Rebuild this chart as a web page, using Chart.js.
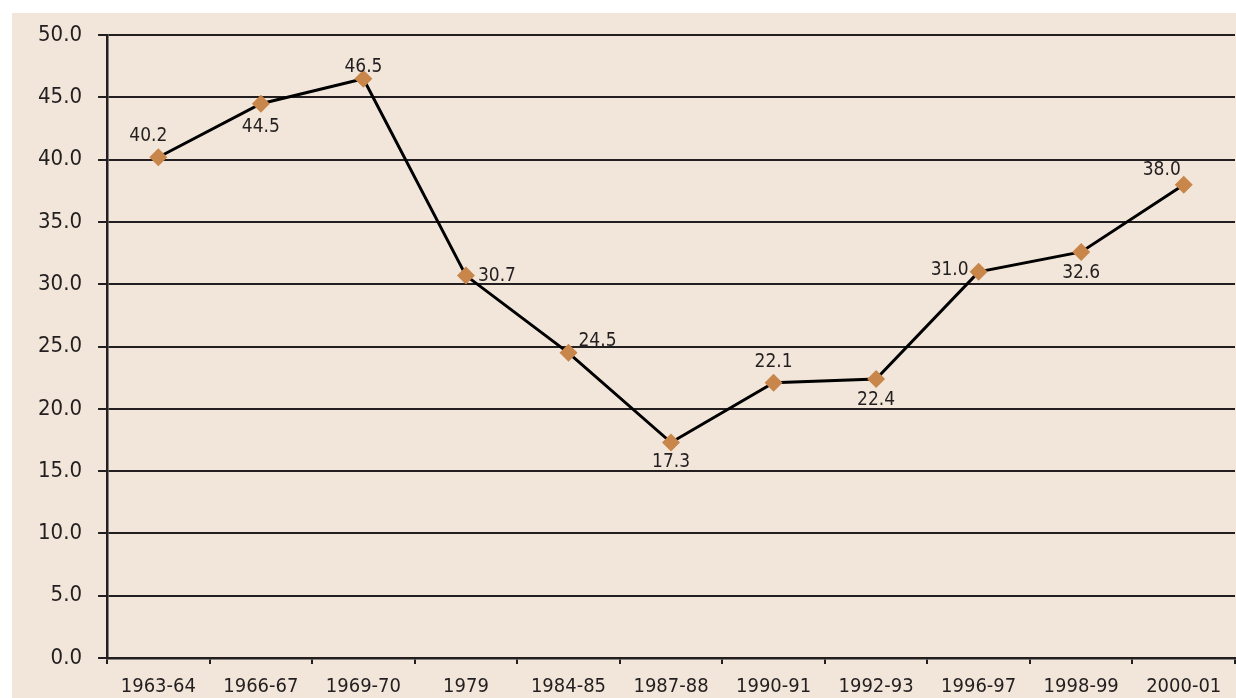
<!DOCTYPE html>
<html>
<head>
<meta charset="utf-8">
<script src="https://cdn.jsdelivr.net/npm/chart.js@4/dist/chart.umd.min.js"></script>
<style>
  html, body { margin: 0; padding: 0; background: #ffffff; }
  #panel {
    position: absolute; left: 12px; top: 13px;
    width: 1224px; height: 685px;
    background: #f2e6da;
    overflow: hidden;
  }
  #wrap {
    position: absolute; left: 0; top: -7px;
    width: 1232px; height: 704px;
  }
</style>
</head>
<body>
<div id="panel"><div id="wrap"><canvas id="chart"></canvas></div></div>
<script>
const periods = ['1963-64', '1966-67', '1969-70', '1979', '1984-85', '1987-88',
                 '1990-91', '1992-93', '1996-97', '1998-99', '2000-01'];
const values = [40.2, 44.5, 46.5, 30.7, 24.5, 17.3, 22.1, 22.4, 31.0, 32.6, 38.0];

// where each value label sits relative to its point (dx, dy)
const labelOffsets = [[-10, -21], [0, 23], [0, -12], [31, 0], [29, -12], [0, 20],
                      [0, -21], [0, 21], [-29, -2], [0, 21], [-22, -15]];

const fontFam = '"Liberation Sans Narrow", "DejaVu Sans Condensed", "Liberation Sans", sans-serif';
const ink = '#231f20';

const valueLabels = {
    id: 'valueLabels',
    afterDatasetsDraw(chart) {
        const ctx = chart.ctx;
        const meta = chart.getDatasetMeta(0);
        ctx.save();
        ctx.font = '19px ' + fontFam;
        ctx.fillStyle = ink;
        ctx.textAlign = 'center';
        ctx.textBaseline = 'middle';
        meta.data.forEach((pt, i) => {
            let off = labelOffsets[i];
            ctx.fillText(values[i].toFixed(1), pt.x + off[0], pt.y + off[1]);
        });
        ctx.restore();
    }
};

var ctx = document.getElementById('chart');
var chart = new Chart(ctx, {
    type: 'line',
    data: {
        labels: periods,
        datasets: [{
            data: values,
            borderColor: '#000000',
            borderWidth: 3,
            pointStyle: 'rectRot',
            pointRadius: 9,
            pointHoverRadius: 9,
            pointBackgroundColor: '#c8864a',
            pointBorderColor: '#c8864a',
            pointBorderWidth: 0,
            tension: 0
        }]
    },
    options: {
        responsive: true,
        maintainAspectRatio: false,
        animation: false,
        layout: { padding: { top: 3, right: 0, left: 10, bottom: 0 } },
        plugins: {
            legend: { display: false },
            tooltip: { enabled: false }
        },
        scales: {
            x: {
                offset: true,
                grid: {
                    offset: true,
                    drawOnChartArea: false,
                    drawTicks: true,
                    tickLength: 6,
                    color: ink,
                    lineWidth: 2
                },
                border: { color: ink, width: 2.5 },
                ticks: {
                    color: ink,
                    font: { family: fontFam, size: 20 },
                    padding: 11,
                    maxRotation: 0,
                    autoSkip: false
                }
            },
            y: {
                min: 0,
                max: 50,
                grid: {
                    color: ink,
                    lineWidth: 2,
                    tickLength: 9
                },
                border: { color: ink, width: 2.5 },
                ticks: {
                    stepSize: 5,
                    color: ink,
                    font: { family: fontFam, size: 22 },
                    padding: 16,
                    callback: v => v.toFixed(1)
                }
            }
        }
    },
    plugins: [valueLabels]
});
</script>
</body>
</html>
